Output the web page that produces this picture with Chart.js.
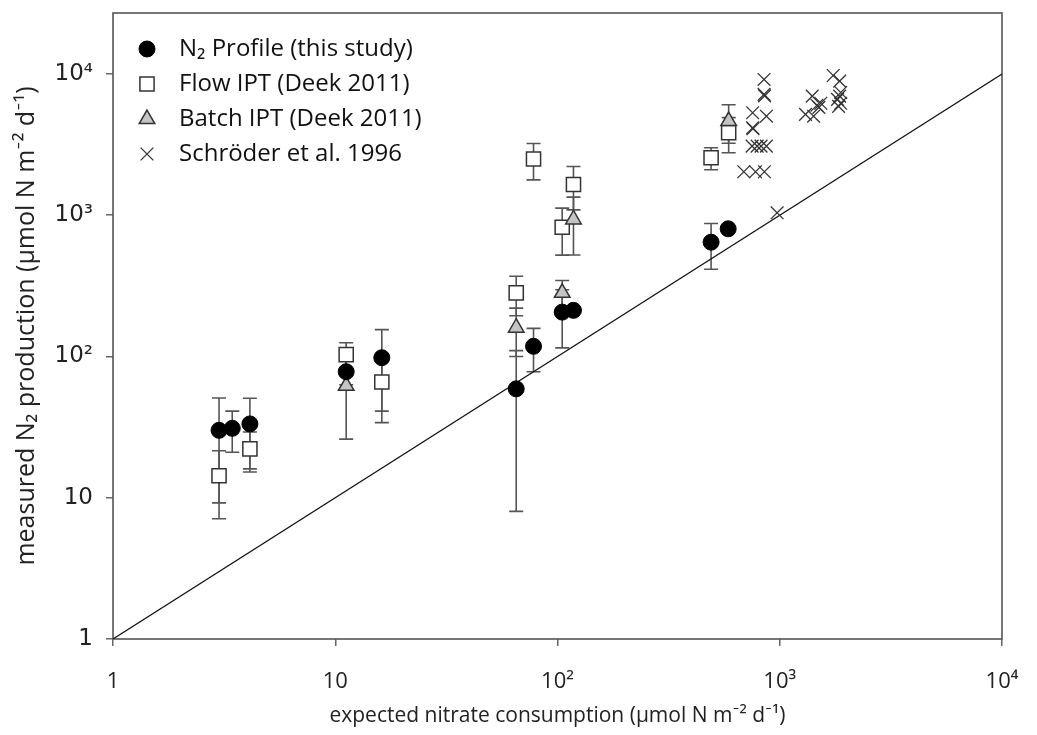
<!DOCTYPE html>
<html>
<head>
<meta charset="utf-8">
<title>N2 production vs nitrate consumption</title>
<script src="https://cdn.jsdelivr.net/npm/chart.js@4.4.1/dist/chart.umd.min.js"></script>
<style>
  html, body { margin: 0; padding: 0; background: #fff; }
</style>
</head>
<body>
<canvas id="chart" width="1037" height="735"></canvas>
<script>
// axis ticks (log decades)
const xTickValues = [1, 10, 100, 1000, 10000];
const xTickLabels = ['1', '10', '10²', '10³', '10⁴'];
const yTickValues = [1, 10, 100, 1000, 10000];
const yTickLabels = ['1', '10', '10²', '10³', '10⁴'];

// N2 profile (this study): mean and sd
const profileX = [3.0, 3.44, 4.13, 11.2, 16.2, 65.2, 78, 105, 118, 491, 586];
const profileY = [30, 31, 33.3, 78, 98, 59, 118, 206, 212, 644, 801];
const profileSd = [20.8, 10, 17.3, 15, 57, 51, 40, 91, 8, 230, 0];

// Flow IPT (Deek 2011)
const flowX = [3.0, 4.13, 11.2, 16.2, 65.2, 78, 105, 118, 491, 589];
const flowY = [14.3, 22.2, 103, 66, 282, 2500, 822, 1650, 2550, 3840];
const flowSd = [7.2, 7, 22, 32, 88, 720, 300, 560, 450, 1070];

// Batch IPT (Deek 2011)
const batchX = [11.2, 65.2, 105, 118, 589];
const batchY = [62, 160, 282, 933, 4640];
const batchSd = [36, 60, 63, 410, 1410];

// Schröder et al. 1996
const schroederX = [973, 689, 778, 853, 751, 791, 824, 871, 755, 758, 755, 871, 850, 855, 850,
                    1306, 1400, 1420, 1470, 1500, 1530, 1740, 1860, 1880, 1860, 1820, 1880, 1840];
const schroederY = [1040, 2030, 2030, 2030, 3080, 3080, 3080, 3080, 4160, 4100, 5310, 5020, 7160, 7000, 9140,
                    5170, 6960, 5020, 6000, 5800, 6200, 9750, 8890, 7390, 6960, 6600, 6200, 5900];

// 1:1 line
const lineX = [1, 10000];
const lineY = [1, 10000];

const legendLabels = ['N₂ Profile (this study)', 'Flow IPT (Deek 2011)', 'Batch IPT (Deek 2011)', 'Schröder et al. 1996'];

const FONT = 'Open Sans, Lato, sans-serif';

function pts(xs, ys) {
  return xs.map((x, i) => ({ x: x, y: ys[i] }));
}

const datasets = [
  { label: legendLabels[0], data: pts(profileX, profileY), sd: profileSd,
    pointStyle: 'circle', pointRadius: 8, backgroundColor: '#000', borderColor: '#000', borderWidth: 1 },
  { label: legendLabels[2], data: pts(batchX, batchY), sd: batchSd,
    pointStyle: 'triangle', pointRadius: 9, backgroundColor: '#c4c4c4', borderColor: '#333', borderWidth: 1.5 },
  { label: legendLabels[1], data: pts(flowX, flowY), sd: flowSd,
    pointStyle: 'rect', pointRadius: 10, backgroundColor: '#fff', borderColor: '#333', borderWidth: 1.5 },
  { label: legendLabels[3], data: pts(schroederX, schroederY),
    pointStyle: 'crossRot', pointRadius: 9, backgroundColor: '#333', borderColor: '#333', borderWidth: 1.3 },
  { label: '1:1', type: 'line', data: pts(lineX, lineY), showLine: true,
    borderColor: '#111', borderWidth: 1.2, pointRadius: 0, fill: false }
];

// vertical error bars (mean ± sd), drawn under the markers
const errorBars = {
  id: 'errorBars',
  beforeDatasetsDraw(chart) {
    const ctx = chart.ctx;
    const xs = chart.scales.x, ys = chart.scales.y;
    ctx.save();
    ctx.strokeStyle = '#555';
    ctx.lineWidth = 1.6;
    chart.data.datasets.forEach(ds => {
      if (!ds.sd) return;
      ds.data.forEach((p, i) => {
        const sd = ds.sd[i];
        if (!sd) return;
        const px = xs.getPixelForValue(p.x);
        const lo = Math.max(p.y - sd, 0.5);
        const yTop = ys.getPixelForValue(p.y + sd);
        const yBot = ys.getPixelForValue(lo);
        ctx.beginPath();
        ctx.moveTo(px, yTop); ctx.lineTo(px, yBot);
        ctx.moveTo(px - 7, yTop); ctx.lineTo(px + 7, yTop);
        ctx.moveTo(px - 7, yBot); ctx.lineTo(px + 7, yBot);
        ctx.stroke();
      });
    });
    ctx.restore();
  }
};

// frame around the plot area
const frame = {
  id: 'frame',
  beforeDatasetsDraw(chart) {
    const a = chart.chartArea, ctx = chart.ctx;
    ctx.save();
    ctx.strokeStyle = '#555';
    ctx.lineWidth = 1.6;
    ctx.strokeRect(a.left, a.top, a.right - a.left, a.bottom - a.top);
    ctx.restore();
  }
};

// legend inside the top-left corner of the plot
const insideLegend = {
  id: 'insideLegend',
  afterDraw(chart) {
    const ctx = chart.ctx, a = chart.chartArea;
    const items = [chart.data.datasets[0], chart.data.datasets[2], chart.data.datasets[1], chart.data.datasets[3]];
    ctx.save();
    items.forEach((ds, i) => {
      const y = a.top + 36 + i * 35;
      const mx = a.left + 34;
      ctx.fillStyle = ds.backgroundColor;
      ctx.strokeStyle = ds.borderColor;
      ctx.lineWidth = ds.borderWidth;
      Chart.helpers.drawPoint(ctx, { pointStyle: ds.pointStyle, radius: ds.pointRadius, rotation: 0, borderWidth: ds.borderWidth }, mx, y);
      ctx.fillStyle = '#111';
      ctx.font = '24px ' + FONT;
      ctx.textBaseline = 'middle';
      ctx.textAlign = 'left';
      ctx.fillText(ds.label, a.left + 66, y);
    });
    ctx.restore();
  }
};

new Chart(document.getElementById('chart'), {
  type: 'scatter',
  data: { datasets: datasets },
  plugins: [frame, errorBars, insideLegend],
  options: {
    responsive: false,
    animation: false,
    devicePixelRatio: 1,
    layout: { padding: { top: 13, right: 35, left: 0, bottom: 0 } },
    plugins: { legend: { display: false }, tooltip: { enabled: false } },
    scales: {
      x: {
        type: 'logarithmic',
        min: 1, max: 10000,
        afterBuildTicks: s => { s.ticks = xTickValues.map(v => ({ value: v })); },
        afterFit: s => { s.height = 96; s.paddingLeft = 0; s.paddingRight = 0; },
        ticks: {
          callback: (v, i) => xTickLabels[i],
          font: { family: FONT, size: 22 }, color: '#222',
          padding: 23, maxRotation: 0, autoSkip: false
        },
        grid: { drawOnChartArea: false, tickLength: 7, color: '#666', lineWidth: 1.5 },
        border: { display: false },
        title: {
          display: true,
          text: 'expected nitrate consumption (µmol N m⁻² d⁻¹)',
          font: { family: FONT, size: 21 }, color: '#222',
          padding: { top: 0, bottom: 6 }
        }
      },
      y: {
        type: 'logarithmic',
        min: 1, max: 27000,
        afterBuildTicks: s => { s.ticks = yTickValues.map(v => ({ value: v })); },
        afterFit: s => { s.width = 113; s.paddingTop = 0; s.paddingBottom = 0; },
        ticks: {
          callback: (v, i) => yTickLabels[i],
          font: { family: 'DejaVu Sans, sans-serif', size: 23 }, color: '#222',
          padding: 13, autoSkip: false
        },
        grid: { drawOnChartArea: false, tickLength: 7, color: '#666', lineWidth: 1.5 },
        border: { display: false },
        title: {
          display: true,
          text: 'measured N₂ production (µmol N m⁻² d⁻¹)',
          font: { family: FONT, size: 25 }, color: '#222',
          padding: { top: 12, bottom: 0 }
        }
      }
    }
  }
});
</script>
</body>
</html>
